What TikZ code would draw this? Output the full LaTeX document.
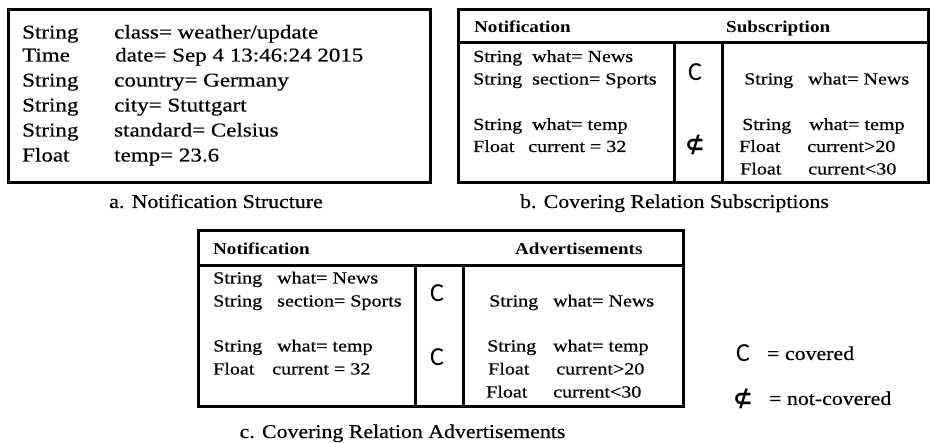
\documentclass[tikz,border=0pt]{standalone}
\usepackage{fontspec}
\setmainfont{Liberation Serif}
\newfontfamily\bodyfont[FakeStretch=1.18,FakeBold=0.5]{Liberation Serif}
\newfontfamily\headfont[FakeStretch=1.15]{Liberation Serif}
\newfontfamily\capfont[FakeStretch=1.12,FakeBold=0.5]{Liberation Serif}
\newfontfamily\relfont{Carlito}
\newfontfamily\mathsymfont{DejaVu Sans}

\begin{document}
\begin{tikzpicture}[x=1pt,y=-1pt,
  frame/.style={line width=3pt},
  big/.style={anchor=base west,inner sep=0pt,font=\bodyfont\fontsize{19.5}{20}\selectfont},
  small/.style={anchor=base west,inner sep=0pt,font=\bodyfont\fontsize{17}{18}\selectfont},
  head/.style={anchor=base west,inner sep=0pt,font=\headfont\bfseries\fontsize{16.6}{18}\selectfont},
  caption/.style={anchor=base,inner sep=0pt,font=\capfont\fontsize{19.5}{20}\selectfont},
  legend/.style={anchor=base west,inner sep=0pt,font=\capfont\fontsize{19.5}{20}\selectfont},
  rel/.style={inner sep=0pt,font=\relfont\fontsize{26}{28}\selectfont},
  notrel/.style={inner sep=0pt,font=\mathsymfont\bfseries\fontsize{24}{26}\selectfont}]

\useasboundingbox (0,0) rectangle (930,443);

% ---------- a. notification structure ----------
\draw[frame] (8,10) rectangle (430,183);
\node[big] (a1t) at (22,38.5)  {String};
\node[big] (a1v) at (114,38.5) {class= weather/update};
\node[big] (a2t) at (22,61.5)  {Time};
\node[big] (a2v) at (115,61.5) {date= Sep 4 13:46:24 2015};
\node[big] (a3t) at (22,86.5)  {String};
\node[big] (a3v) at (114,86.5) {country= Germany};
\node[big] (a4t) at (22,111.5) {String};
\node[big] (a4v) at (114,111.5) {city= Stuttgart};
\node[big] (a5t) at (22,136.5) {String};
\node[big] (a5v) at (114,136.5) {standard= Celsius};
\node[big] (a6t) at (22,161.5) {Float};
\node[big] (a6v) at (114,161.5) {temp= 23.6};
\node[caption] (acap) at (216,208) {a. Notification Structure};

% ---------- b. covering relation subscriptions ----------
\draw[frame] (458,10) rectangle (928,183);
\draw[frame] (458,43) -- (928,43);
\draw[frame] (674,43) -- (674,183);
\draw[frame] (722,43) -- (722,183);
\node[head] (bh1) at (474,33) {Notification};
\node[head] (bh2) at (726,33) {Subscription};
\node[small] (bl1t) at (473,62)   {String};
\node[small] (bl1v) at (532,62)   {what= News};
\node[small] (bl2t) at (473,84.5) {String};
\node[small] (bl2v) at (532,84.5) {section= Sports};
\node[small] (bl3t) at (473,130)  {String};
\node[small] (bl3v) at (532,130)  {what= temp};
\node[small] (bl4t) at (473,152)  {Float};
\node[small] (bl4v) at (528,152)  {current = 32};
\node[rel]    (bc1) at (695,72)  {C};
\node[notrel] (bc2) at (695,145) {⊄};
\node[small] (br1t) at (744,84.5) {String};
\node[small] (br1v) at (808,84.5) {what= News};
\node[small] (br2t) at (742,130)  {String};
\node[small] (br2v) at (809,130)  {what= temp};
\node[small] (br3t) at (739,152)  {Float};
\node[small] (br3v) at (807,152)  {current>20};
\node[small] (br4t) at (740,174.5) {Float};
\node[small] (br4v) at (808,174.5) {current<30};
\node[caption] (bcap) at (674.5,208) {b. Covering Relation Subscriptions};

% ---------- c. covering relation advertisements ----------
\draw[frame] (198,231) rectangle (683,407);
\draw[frame] (198,266) -- (683,266);
\draw[frame] (415,266) -- (415,407);
\draw[frame] (463,266) -- (463,407);
\node[head] (ch1) at (213,255) {Notification};
\node[head] (ch2) at (515,255) {Advertisements};
\node[small] (cl1t) at (213,283.5) {String};
\node[small] (cl1v) at (277,283.5) {what= News};
\node[small] (cl2t) at (213,306.5) {String};
\node[small] (cl2v) at (277,306.5) {section= Sports};
\node[small] (cl3t) at (213,351.5) {String};
\node[small] (cl3v) at (277,351.5) {what= temp};
\node[small] (cl4t) at (213,374.5) {Float};
\node[small] (cl4v) at (272,374.5) {current = 32};
\node[rel] (cc1) at (437,293) {C};
\node[rel] (cc2) at (437,357) {C};
\node[small] (cr1t) at (489,306.5) {String};
\node[small] (cr1v) at (553,306.5) {what= News};
\node[small] (cr2t) at (487,351.5) {String};
\node[small] (cr2v) at (553,351.5) {what= temp};
\node[small] (cr3t) at (488,374.5) {Float};
\node[small] (cr3v) at (556,374.5) {current>20};
\node[small] (cr4t) at (486,397.5) {Float};
\node[small] (cr4v) at (553,397.5) {current<30};
\node[caption] (ccap) at (402.5,438) {c. Covering Relation Advertisements};

% ---------- legend ----------
\node[rel]    (lc1) at (743,353) {C};
\node[legend] (lt1) at (767,360) {= covered};
\node[notrel] (lc2) at (743,399) {⊄};
\node[legend] (lt2) at (769,405) {= not-covered};
\end{tikzpicture}
\end{document}
